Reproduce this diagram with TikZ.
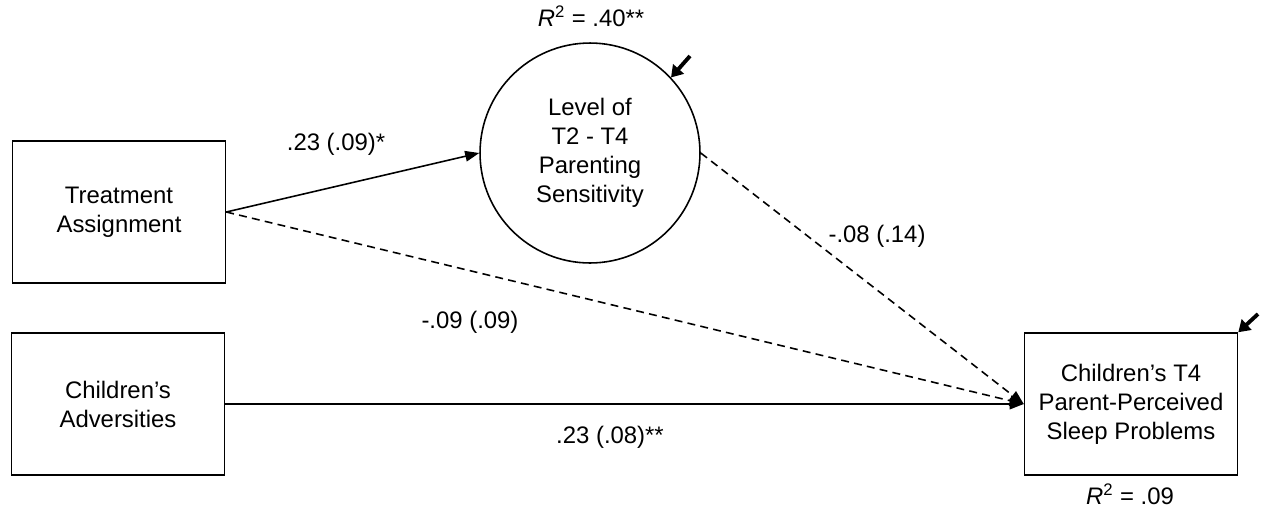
\documentclass[tikz,border=0pt]{standalone}
\usepackage{fontspec}
\setmainfont{Liberation Sans}
\usetikzlibrary{arrows.meta}

\begin{document}
\begin{tikzpicture}[x=0.02cm, y=-0.02cm, every node/.style={font=\fontsize{13.6}{16.5}\selectfont},
	box/.style={draw, line width=0.9pt, minimum width=4.26cm, minimum height=2.84cm, align=center, inner sep=0pt},
	latent/.style={draw, circle, line width=0.9pt, minimum size=4.4cm, align=center, inner sep=0pt},
	path/.style={line width=0.9pt, -{Triangle[length=8pt,width=6pt]}},
	err/.style={line width=2.2pt, -{Triangle[length=6.5pt,width=8pt]}}]
	\useasboundingbox (0,0) rectangle (1266,508);
	\node[box] (treat) at (119,212) {Treatment\\Assignment};
	\node[box] (adv) at (118,404) {Children's\\Adversities};
	\node[latent] (sens) at (590,153) {Level of\\T2 - T4\\Parenting\\Sensitivity};
	\node[box] (sleep) at (1131,404) {Children's T4\\Parent-Perceived\\Sleep Problems};
	\draw[path] (treat.east) -- (sens.west);
	\draw[path, dash pattern=on 4.5pt off 3pt] (treat.east) -- (sleep.west);
	\draw[path, dash pattern=on 4.5pt off 3pt] (sens.east) -- (sleep.west);
	\draw[path] (adv.east) -- (sleep.west);
	\coordinate (e1) at (690,56);
	\coordinate (e2) at (1258,314);
	\draw[err] (e1) -- (sens.43);
	\draw[err] (e2) -- (sleep.north east);
	\node (l1) at (336,144) {.23 (.09)*};
	\node (l2) at (877,236) {-.08 (.14)};
	\node (l3) at (470,322) {-.09 (.09)};
	\node (l4) at (610,437) {.23 (.08)**};
	\node (r1) at (591,16) {\textit{R}\textsuperscript{2} = .40**};
	\node (r2) at (1130,494) {\textit{R}\textsuperscript{2} = .09};
\end{tikzpicture}
\end{document}
